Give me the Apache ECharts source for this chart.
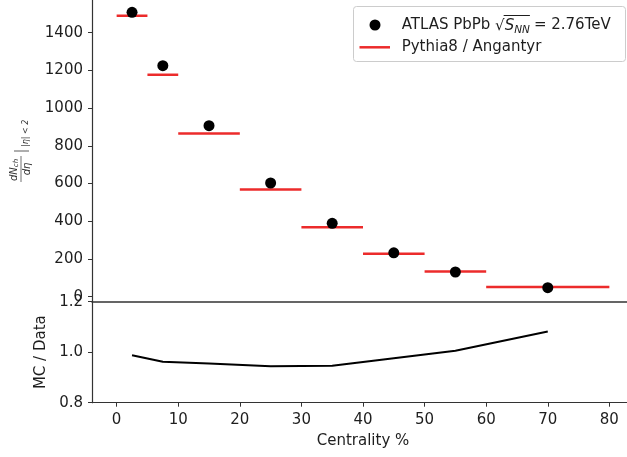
<!DOCTYPE html>
<html>
<head>
<meta charset="utf-8">
<script src="https://cdn.jsdelivr.net/npm/echarts@6/dist/echarts.min.js"></script>
<style>
  html, body { margin: 0; padding: 0; background: #ffffff; }
  #chart { width: 627px; height: 457px; }
</style>
</head>
<body>
<div id="chart"></div>
<script>
// Charged-particle multiplicity vs. centrality, PbPb at 2.76 TeV
const centrality = [2.5, 7.5, 15, 25, 35, 45, 55, 70];
const binLow     = [0, 5, 10, 20, 30, 40, 50, 60];
const binHigh    = [5, 10, 20, 30, 40, 50, 60, 80];
const atlasData  = [1508, 1225, 907, 603, 389, 233, 131, 48];
const angantyr   = [1490, 1177, 866, 569, 368, 228, 133, 51];
const ratio      = [0.988, 0.962, 0.955, 0.944, 0.946, 0.976, 1.006, 1.082];

const xTicks       = [0, 10, 20, 30, 40, 50, 60, 70, 80];
const yTicksTop    = [0, 200, 400, 600, 800, 1000, 1200, 1400];
const yTicksBottom = [0.8, 1.0, 1.2];

const FONT = '"DejaVu Sans", sans-serif';
const AXIS_COLOR = '#333333';
const TEXT_COLOR = '#1e1e1e';
const RED = '#ec2b2b';

const chart = echarts.init(document.getElementById('chart'), null, { renderer: 'canvas' });

// text measurement for the legend layout
const measureCtx = document.createElement('canvas').getContext('2d');
function textWidth(str, font) { measureCtx.font = font; return measureCtx.measureText(str).width; }

const legendX = 401.7, legendY1 = 25, legendY2 = 47;
const fMain = '15px "DejaVu Sans"';
const fItal = 'italic 15px "DejaVu Sans"';
const fSub  = 'italic 10.5px "DejaVu Sans"';
const p1 = 'ATLAS PbPb ';
const xRad = legendX + textWidth(p1, fMain);
const xS = xRad + textWidth('\u221A', fMain);
const xNN = xS + textWidth('S', fItal);
const xEq = xNN + textWidth('NN', fSub) + 1;

function legendGraphics() {
  return [
    { type: 'rect', shape: { x: 353.5, y: 6.5, width: 272, height: 55, r: 3 },
      style: { fill: '#ffffff', stroke: '#cccccc', lineWidth: 1 }, z: 100 },
    { type: 'circle', shape: { cx: 375, cy: legendY1, r: 5.5 }, style: { fill: '#000000' }, z: 101 },
    { type: 'line', shape: { x1: 359.5, y1: legendY2 + 0.3, x2: 390, y2: legendY2 + 0.3 },
      style: { stroke: RED, lineWidth: 2.5 }, z: 101 },
    { type: 'text', x: legendX, y: legendY1, z: 101,
      style: { text: p1, font: fMain, fill: TEXT_COLOR, verticalAlign: 'middle' } },
    { type: 'text', x: xRad, y: legendY1 + 1, z: 101,
      style: { text: '\u221A', font: fMain, fill: TEXT_COLOR, verticalAlign: 'middle' } },
    { type: 'line', shape: { x1: xS - 1, y1: 15.5, x2: xEq - 1, y2: 15.5 },
      style: { stroke: TEXT_COLOR, lineWidth: 1 }, z: 101 },
    { type: 'text', x: xS, y: legendY1 + 1, z: 101,
      style: { text: 'S', font: fItal, fill: TEXT_COLOR, verticalAlign: 'middle' } },
    { type: 'text', x: xNN, y: legendY1 + 5, z: 101,
      style: { text: 'NN', font: fSub, fill: TEXT_COLOR, verticalAlign: 'middle' } },
    { type: 'text', x: xEq + 3, y: legendY1, z: 101,
      style: { text: '= 2.76TeV', font: fMain, fill: TEXT_COLOR, verticalAlign: 'middle' } },
    { type: 'text', x: legendX, y: legendY2, z: 101,
      style: { text: 'Pythia8 / Angantyr', font: fMain, fill: TEXT_COLOR, verticalAlign: 'middle' } }
  ];
}

// rotated y-axis title of the upper panel: dN_ch/dη |_{|η|<2}
function yTitleGraphic() {
  return {
    type: 'group', x: 21, y: 182, rotation: Math.PI / 2,
    children: [
      { type: 'text', x: 1, y: -1,
        style: { text: '{a|dN}{b|ch}', verticalAlign: 'bottom', fill: '#333',
          rich: { a: { font: 'italic 10px "DejaVu Sans"' },
                  b: { font: 'italic 7px "DejaVu Sans"', padding: [4, 0, 0, 0] } } } },
      { type: 'line', shape: { x1: 0, y1: 0, x2: 26, y2: 0 }, style: { stroke: '#333', lineWidth: 0.7 } },
      { type: 'text', x: 13, y: 1,
        style: { text: 'd\u03B7', font: 'italic 10px "DejaVu Sans"', fill: '#333', align: 'center', verticalAlign: 'top' } },
      { type: 'line', shape: { x1: 31, y1: -7, x2: 31, y2: 8 }, style: { stroke: '#333', lineWidth: 0.8 } },
      { type: 'text', x: 35, y: 9,
        style: { text: '|\u03B7| < 2', font: 'italic 8px "DejaVu Sans"', fill: '#333', verticalAlign: 'bottom' } }
    ]
  };
}

const labelStyle = { color: TEXT_COLOR, fontFamily: FONT, fontSize: 15 };
const plain = v => String(v);

const option = {
  backgroundColor: '#ffffff',
  animation: false,
  grid: [
    { left: 92, right: -7, top: 0, height: 301.7, containLabel: false, outerBoundsMode: 'none' },
    { left: 92, right: -7, top: 301.7, height: 101, containLabel: false, outerBoundsMode: 'none' }
  ],
  xAxis: [
    { type: 'value', gridIndex: 0, min: -4, max: 84,
      axisLine: { show: true, onZero: false, lineStyle: { color: AXIS_COLOR, width: 1.5 } },
      axisTick: { show: false }, axisLabel: { show: false }, splitLine: { show: false } },
    { type: 'value', gridIndex: 1, min: -4, max: 84,
      name: 'Centrality %', nameLocation: 'middle', nameGap: 31,
      nameTextStyle: labelStyle,
      axisLine: { show: true, onZero: false, lineStyle: { color: AXIS_COLOR, width: 1.2 } },
      axisTick: { show: true, length: 4, lineStyle: { color: AXIS_COLOR }, customValues: xTicks },
      axisLabel: Object.assign({ margin: 10, customValues: xTicks, formatter: plain }, labelStyle),
      splitLine: { show: false } }
  ],
  yAxis: [
    { type: 'value', gridIndex: 0, min: -26.5, max: 1573.5,
      axisLine: { show: true, onZero: false, lineStyle: { color: AXIS_COLOR, width: 1.2 } },
      axisTick: { show: true, length: 4, lineStyle: { color: AXIS_COLOR }, customValues: yTicksTop },
      axisLabel: Object.assign({ margin: 9, customValues: yTicksTop, formatter: plain }, labelStyle),
      splitLine: { show: false } },
    { type: 'value', gridIndex: 1, min: 0.8, max: 1.2,
      name: 'MC / Data', nameLocation: 'middle', nameGap: 37, nameRotate: 90,
      nameTextStyle: labelStyle,
      axisLine: { show: true, onZero: false, lineStyle: { color: AXIS_COLOR, width: 1.2 } },
      axisTick: { show: true, length: 4, lineStyle: { color: AXIS_COLOR }, customValues: yTicksBottom },
      axisLabel: Object.assign({ margin: 9, customValues: yTicksBottom,
        formatter: v => v.toFixed(1) }, labelStyle),
      splitLine: { show: false } }
  ],
  series: [
    {
      name: 'Pythia8 / Angantyr', type: 'custom', xAxisIndex: 0, yAxisIndex: 0,
      data: binLow.map((lo, i) => [lo, binHigh[i], angantyr[i]]),
      encode: { x: [0, 1], y: 2 },
      renderItem: function (params, api) {
        const y = api.value(2);
        const a = api.coord([api.value(0), y]);
        const b = api.coord([api.value(1), y]);
        return { type: 'line', shape: { x1: a[0], y1: a[1], x2: b[0], y2: b[1] },
                 style: { stroke: RED, lineWidth: 2.5 } };
      }
    },
    {
      name: 'ATLAS PbPb', type: 'scatter', xAxisIndex: 0, yAxisIndex: 0,
      data: centrality.map((c, i) => [c, atlasData[i]]),
      symbol: 'circle', symbolSize: 11, itemStyle: { color: '#000000', opacity: 1 }, z: 3
    },
    {
      name: 'MC / Data', type: 'line', xAxisIndex: 1, yAxisIndex: 1,
      data: centrality.map((c, i) => [c, ratio[i]]),
      showSymbol: false, lineStyle: { color: '#000000', width: 2 }
    }
  ],
  graphic: legendGraphics().concat([yTitleGraphic()])
};

chart.setOption(option);
</script>
</body>
</html>
